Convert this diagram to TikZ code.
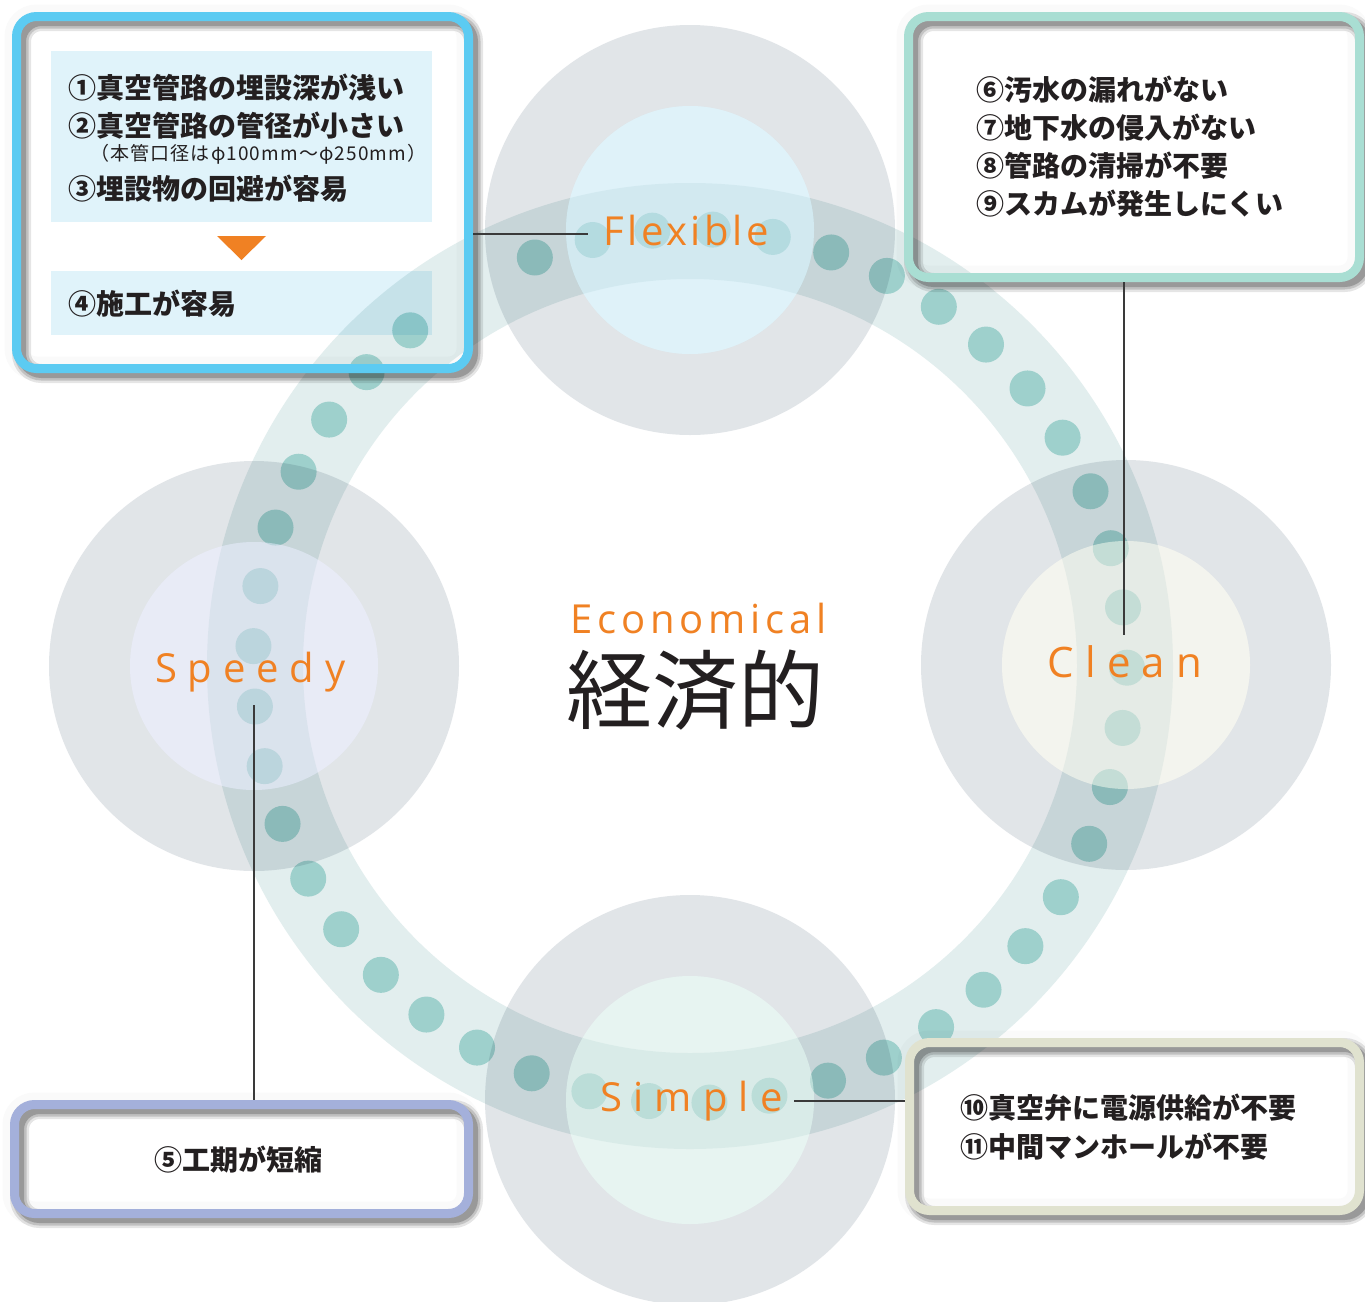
\documentclass[tikz,border=0pt]{standalone}
\usepackage{fontspec}
\newfontfamily\jp{Noto Sans CJK JP}
\newfontfamily\lat{Open Sans}
\definecolor{grayc}{HTML}{E1E5E8}
\definecolor{flexc}{HTML}{DFF2F9}
\definecolor{speedc}{HTML}{E8EBF6}
\definecolor{cleanc}{HTML}{F3F4EE}
\definecolor{simplec}{HTML}{E7F4F1}
\definecolor{ringc}{HTML}{E2EEEE}
\definecolor{dotc}{HTML}{B3DFDB}
\definecolor{cyanb}{HTML}{5CCBF2}
\definecolor{mintb}{HTML}{A9DED3}
\definecolor{lavb}{HTML}{A4B0DB}
\definecolor{khakib}{HTML}{E0E2CF}
\definecolor{panelc}{HTML}{E0F3FA}
\definecolor{orangec}{HTML}{F08123}
\definecolor{txtc}{HTML}{231F20}
\definecolor{linec}{HTML}{3A3A3A}
\tikzset{
  boxfill/.style={shape=rectangle, fill=white, rounded corners=20pt, inner sep=0pt, outer sep=4.5pt},
  boxborder/.style={draw=#1, line width=9pt, rounded corners=20pt},
  boxshade/.style={draw=black, rounded corners=20pt},
  jtxt/.style={anchor=west, inner sep=0pt, text=txtc, font={\jp\bfseries\fontsize{28pt}{30pt}\selectfont}},
  jsmall/.style={anchor=west, inner sep=0pt, text=txtc, font={\jp\addfontfeatures{LetterSpace=6}\fontsize{19pt}{20pt}\selectfont}},
  lbl/.style={anchor=base west, inner sep=0pt, text=orangec},
  conn/.style={draw=linec, line width=1.5pt},
}
\newcommand\shadebox[2]{%
  \draw[boxshade, line width=24pt, opacity=0.02] ([shift={(4.5,4.5)}]#1.north west) rectangle ([shift={(-4.5,-4.5)}]#1.south east);
  \foreach \w/\o in {19/0.10, 14/0.14, 9/0.2}{
    \draw[boxshade, line width=\w pt, opacity=\o] ([shift={(9.5,9.5)}]#1.north west) rectangle ([shift={(0.5,0.5)}]#1.south east);
  }
  \draw[boxborder=#2] ([shift={(4.5,4.5)}]#1.north west) rectangle ([shift={(-4.5,-4.5)}]#1.south east);
}
\begin{document}
\begin{tikzpicture}[x=1pt,y=-1pt]
\useasboundingbox (0,0) rectangle (1365,1301);
\fill[white] (0,0) rectangle (1365,1301);
% gray outer circles and inner circles
\fill[grayc] (690,230) circle (205);
\fill[grayc] (254,666) circle (205);
\fill[grayc] (1126,665) circle (205);
\fill[grayc] (690,1100) circle (205);
\fill[flexc] (690,230) circle (124);
\fill[speedc] (254,666) circle (124);
\fill[cleanc] (1126,665) circle (124);
\fill[simplec] (690,1100) circle (124);
% box fills
\node[boxfill, minimum width=452pt, minimum height=352pt] (b1) at (242.5,192.5) {};
\node[boxfill, minimum width=451pt, minimum height=261pt] (b2) at (1134,147) {};
\node[boxfill, minimum width=450pt, minimum height=168pt] (b3) at (1134.5,1126.5) {};
\node[boxfill, minimum width=454pt, minimum height=109pt] (b4) at (241.5,1159) {};
% panels
\fill[panelc] (51,51) rectangle (432,222);
\fill[panelc] (51,271) rectangle (432,335);
\fill[orangec] (217,236) -- (266,236) -- (241.5,260) -- cycle;
% ring and dots
\begin{scope}[blend mode=multiply]
  \fill[ringc, even odd rule] (690,666) circle (483) (690,666) circle (387);
  \foreach \k in {0,...,43}{
    \fill[dotc] ({690+437*cos(110.8-7.93*\k)},{666-437*sin(110.8-7.93*\k)}) circle (18);
  }
\end{scope}
% inner circles overlay
\fill[flexc, opacity=0.5] (690,230) circle (124);
\fill[speedc, opacity=0.5] (254,666) circle (124);
\fill[cleanc, opacity=0.5] (1126,665) circle (124);
\fill[simplec, opacity=0.5] (690,1100) circle (124);
% borders with shadows
\shadebox{b1}{cyanb}
\shadebox{b2}{mintb}
\shadebox{b3}{khakib}
\shadebox{b4}{lavb}
% box texts
\node[jtxt] (t1) at (68,88) {①真空管路の埋設深が浅い};
\node[jtxt] (t2) at (68,126) {②真空管路の管径が小さい};
\node[jsmall] (t2s) at (90,154) {（本管口径はφ100mm～φ250mm）};
\node[jtxt] (t3) at (68,189) {③埋設物の回避が容易};
\node[jtxt] (t4) at (68,304) {④施工が容易};
\node[jtxt, anchor=center] (t5) at (238,1160) {⑤工期が短縮};
\node[jtxt] (t6) at (976,90) {⑥汚水の漏れがない};
\node[jtxt] (t7) at (976,128) {⑦地下水の侵入がない};
\node[jtxt] (t8) at (976,166) {⑧管路の清掃が不要};
\node[jtxt] (t9) at (976,204) {⑨スカムが発生しにくい};
\node[jtxt] (t10) at (960,1108) {⑩真空弁に電源供給が不要};
\node[jtxt] (t11) at (960,1147) {⑪中間マンホールが不要};
% labels
\node[lbl, font={\lat\addfontfeatures{LetterSpace=9}\fontsize{40pt}{40pt}\selectfont}] (flex) at (603,245) {Flexible};
\node[lbl, font={\lat\addfontfeatures{LetterSpace=27}\fontsize{40pt}{40pt}\selectfont}] (speedy) at (155,682) {Speedy};
\node[lbl, font={\lat\addfontfeatures{LetterSpace=27}\fontsize{42pt}{42pt}\selectfont}] (clean) at (1047,677) {Clean};
\node[lbl, font={\lat\addfontfeatures{LetterSpace=28}\fontsize{40pt}{40pt}\selectfont}] (simple) at (600,1111) {Simple};
\node[lbl, font={\lat\addfontfeatures{LetterSpace=12}\fontsize{40pt}{40pt}\selectfont}] (econ) at (570,633) {Economical};
\node[anchor=west, inner sep=0pt, text=txtc, font={\jp\fontsize{86pt}{86pt}\selectfont}] (keizai) at (566,690) {経済的};
% connectors
\coordinate (flexend) at (588,234);
\coordinate (cleanend) at (1124,635);
\coordinate (speedyend) at (254,705);
\coordinate (simpleend) at (794,1101);
\draw[conn] (flexend -| b1.east) -- (flexend);
\draw[conn] (cleanend |- b2.south) -- (cleanend);
\draw[conn] (speedyend) -- (speedyend |- b4.north);
\draw[conn] (simpleend) -- (simpleend -| b3.west);
\end{tikzpicture}
\end{document}
